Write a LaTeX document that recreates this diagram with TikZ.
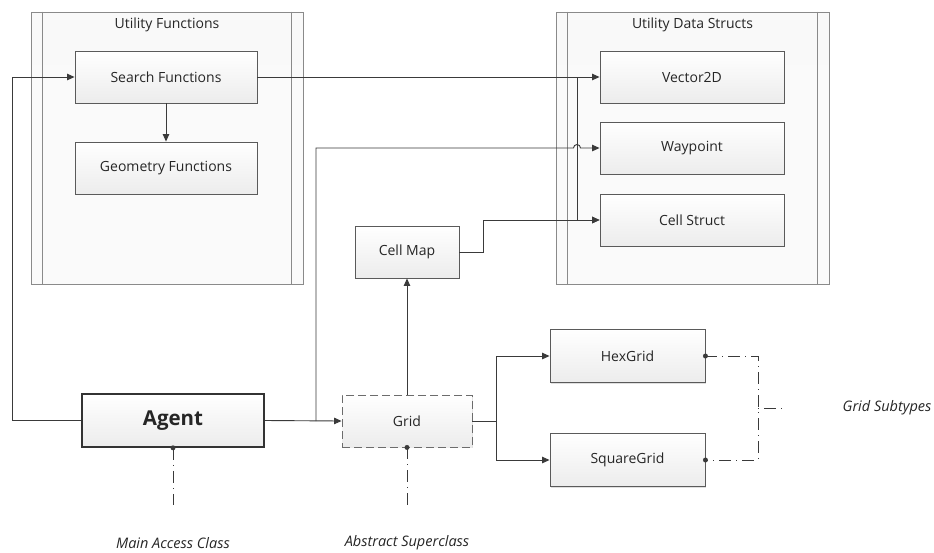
\documentclass[tikz,border=0pt]{standalone}
\usepackage{fontspec}
\setmainfont{Open Sans}
\usetikzlibrary{arrows.meta,shadows}
\definecolor{linec}{HTML}{3A3A3A}
\definecolor{boxb}{HTML}{5A5A5A}
\definecolor{contb}{HTML}{8A8A8A}
\definecolor{contf}{HTML}{F1F1F1}
\definecolor{boxbot}{HTML}{ECECEC}
\tikzset{
  cont/.style={draw=contb, line width=1pt, top color=contf!40!white, bottom color=contf!90!gray!20, minimum width=272pt, minimum height=272pt, inner sep=0pt},
  ubox/.style={draw=boxb, line width=0.9pt, top color=white, bottom color=boxbot, minimum height=52pt, inner sep=0pt, font=\fontsize{14}{16}\selectfont, text=black!85, drop shadow={shadow xshift=1.2pt, shadow yshift=-1.2pt, opacity=0.25, fill=gray}},
  conn/.style={draw=linec, line width=0.9pt},
  arr/.style={conn, -{Triangle[length=7.5pt,width=6.5pt]}},
  note/.style={draw=linec, line width=0.8pt, dash pattern=on 12pt off 5pt on 1pt off 5pt},
  dotc/.style={circle, fill=linec, inner sep=0pt, minimum size=5pt},
  lbl/.style={font=\fontsize{14.5}{16}\selectfont\itshape, text=black!85},
  ttl/.style={font=\fontsize{14}{16}\selectfont, text=black!85}
}
\begin{document}
\begin{tikzpicture}[x=1pt,y=-1pt]
\useasboundingbox (0,0) rectangle (934,552);
% containers
\node[cont] (uf) at (167,148) {};
\node[cont, minimum width=273pt] (ud) at (692.5,148) {};
\foreach \c in {uf,ud}{
  \draw[contb, line width=1pt] ([xshift=12pt]\c.north west) -- ([xshift=12pt]\c.south west);
  \draw[contb, line width=1pt] ([xshift=-12pt]\c.north east) -- ([xshift=-12pt]\c.south east);
}
\node[ttl] (uft) at (167,25) {Utility Functions};
\node[ttl] (udt) at (692.5,25) {Utility Data Structs};
% boxes
\node[ubox, minimum width=182pt] (search) at (166,77) {Search Functions};
\node[ubox, minimum width=182pt] (geom) at (166,168) {Geometry Functions};
\node[ubox, minimum width=184pt] (vec) at (692,77) {Vector2D};
\node[ubox, minimum width=184pt] (wayp) at (692,148) {Waypoint};
\node[ubox, minimum width=184pt] (cell) at (692,220) {Cell Struct};
\node[ubox, minimum width=104pt] (cmap) at (407,252) {Cell Map};
\node[ubox, minimum width=182pt, minimum height=53pt, line width=1.6pt, draw=black!80, font=\fontsize{20.5}{24}\selectfont\bfseries] (agent) at (173,420.5) {Agent};
\node[ubox, minimum width=130pt, dashed, dash pattern=on 8pt off 4pt, draw=gray!85!black, drop shadow={opacity=0}] (grid) at (407,421) {Grid};
\node[ubox, minimum width=155pt, minimum height=53pt] (hex) at (627.5,356) {HexGrid};
\node[ubox, minimum width=155pt, minimum height=53pt] (sq) at (627.5,460) {SquareGrid};
% connectors
\coordinate (brA) at (577,77);
\coordinate (wpL) at (316,421);
\coordinate (gsplit) at (496,421);
\coordinate (cmR) at (483,252);
\coordinate (agL) at (12,420.5);
\draw[arr] (search.south) -- (geom.north);
\draw[arr] (search.east) -- (vec.west);
\draw[arr] (brA) |- (cell.west);
\draw[arr] (cmap.east) -- (cmR) |- (cell.west);
\draw[arr] (agent.west) -- (agL) |- (search.west);
\draw[arr] (agent.east) -- (grid.west);
\draw[arr] (wpL) -- (316,148) -- (573.5,148) arc[start angle=180, end angle=0, radius=3.5pt] -- (wayp.west);
\draw[arr] (grid.north) -- (cmap.south);
\draw[arr] (grid.east) -- (gsplit) |- (hex.west);
\draw[arr] (gsplit) |- (sq.west);
% annotations
\node[dotc] (agdot) at (agent.south) {};
\node[dotc] (grdot) at (grid.south) {};
\node[dotc] (hxdot) at (hex.east) {};
\node[dotc] (sqdot) at (sq.east) {};
\coordinate (agend) at (173,505);
\coordinate (grend) at (407,505);
\coordinate (bkt) at (758,408);
\coordinate (bkte) at (783,408);
\draw[note] (agdot.center) -- (agend);
\draw[note] (grdot.center) -- (grend);
\draw[note] (hxdot.center) -- (758,356) -- (758,460) -- (sqdot.center);
\draw[note, dash pattern=on 1pt off 5pt on 12pt off 5pt] (bkt) -- (bkte);
\node[lbl] (mac) at (173,543) {Main Access Class};
\node[lbl] (abs) at (407,543) {Abstract Superclass};
\node[lbl] (gst) at (887,408) {Grid Subtypes};
\end{tikzpicture}
\end{document}
